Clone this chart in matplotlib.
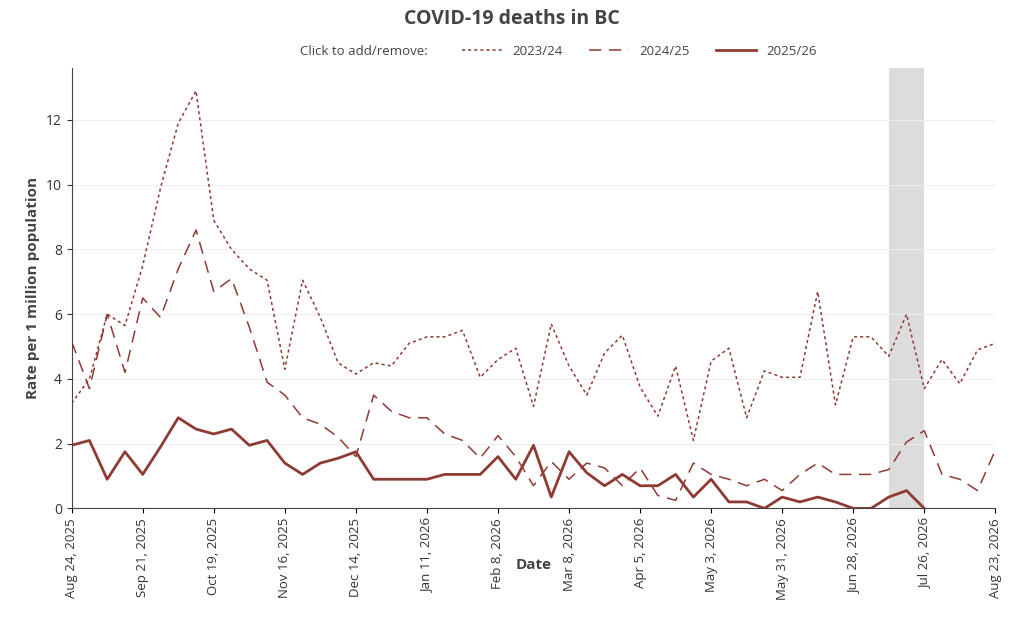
import numpy as np
import pandas as pd
import matplotlib
matplotlib.use("Agg")
import matplotlib.pyplot as plt

plt.rcParams['font.family'] = ['Open Sans', 'DejaVu Sans']

dates = pd.date_range("2025-08-24", periods=53, freq="7D")

s2324 = [3.25, 4.0, 6.0, 5.65, 7.5, 9.9, 11.9, 12.9, 8.9, 8.0, 7.4, 7.05, 4.3, 7.05, 5.9, 4.5,
         4.15, 4.5, 4.4, 5.1, 5.3, 5.3, 5.5, 4.05, 4.6, 4.95, 3.15, 5.7, 4.4, 3.5, 4.8, 5.35,
         3.75, 2.85, 4.4, 2.1, 4.55, 4.95, 2.8, 4.25, 4.05, 4.05, 6.7, 3.2, 5.3, 5.3, 4.7, 6.0,
         3.7, 4.6, 3.85, 4.9, 5.1]
s2425 = [5.15, 3.7, 6.0, 4.2, 6.5, 5.9, 7.4, 8.6, 6.7, 7.1, 5.6, 3.9, 3.5, 2.8, 2.6, 2.2,
         1.6, 3.5, 3.0, 2.8, 2.8, 2.3, 2.1, 1.55, 2.25, 1.6, 0.7, 1.45, 0.9, 1.4, 1.25, 0.7,
         1.25, 0.4, 0.25, 1.4, 1.05, 0.9, 0.7, 0.9, 0.55, 1.05, 1.4, 1.05, 1.05, 1.05, 1.2, 2.05,
         2.4, 1.05, 0.9, 0.55, 1.8]
s2526 = [1.95, 2.1, 0.9, 1.75, 1.05, 1.9, 2.8, 2.45, 2.3, 2.45, 1.95, 2.1, 1.4, 1.05, 1.4, 1.55,
         1.75, 0.9, 0.9, 0.9, 0.9, 1.05, 1.05, 1.05, 1.6, 0.9, 1.95, 0.35, 1.75, 1.1, 0.7, 1.05,
         0.7, 0.7, 1.05, 0.35, 0.9, 0.2, 0.2, 0.0, 0.35, 0.2, 0.35, 0.2, 0.0, 0.0, 0.35, 0.55, 0.0]
shade_start, shade_end = "2026-07-12", "2026-07-26"

col = "#8e3b33"
fig, ax = plt.subplots(figsize=(10.24, 6.2), dpi=100)
fig.subplots_adjust(left=0.07, right=0.972, top=0.89, bottom=0.18)

ax.axvspan(pd.Timestamp(shade_start), pd.Timestamp(shade_end), color="#dcdcdc", lw=0, zorder=0)
l1, = ax.plot(dates, s2324, color=col, lw=1.1, ls=(0, (2, 2)), label="2023/24")
l2, = ax.plot(dates, s2425, color=col, lw=1.1, ls=(0, (8, 5)), label="2024/25")
l3, = ax.plot(dates[:len(s2526)], s2526, color=col, lw=2, label="2025/26")

ax.set_xlim(dates[0], dates[-1])
ax.set_ylim(0, 13.6)
ax.set_yticks([0, 2, 4, 6, 8, 10, 12])
ticks = dates[::4]
ax.set_xticks(ticks)
ax.set_xticklabels([f"{d.strftime('%b')} {d.day}, {d.year}" for d in ticks], rotation=90, fontsize=9.5, color="#333333")
ax.tick_params(axis="y", labelsize=10, colors="#333333")
ax.grid(axis="y", color="#eeeeee", lw=0.8)
ax.set_axisbelow(True)
for s in ["top", "right"]:
    ax.spines[s].set_visible(False)
for s in ["left", "bottom"]:
    ax.spines[s].set_color("#444444")

ax.set_xlabel("Date", fontsize=11, fontweight="bold", color="#444444", labelpad=-30)
ax.set_ylabel("Rate per 1 million population", fontsize=11, fontweight="bold", color="#444444")
fig.suptitle("COVID-19 deaths in BC", fontsize=14, fontweight="bold", color="#444444", y=0.985)

fig.text(0.293, 0.917, "Click to add/remove:", fontsize=9.5, color="#444444", va="center")
leg = fig.legend(handles=[l1, l2, l3], loc="center left", bbox_to_anchor=(0.44, 0.917),
                 ncol=3, frameon=False, fontsize=9.5, handlelength=3, columnspacing=2)
for t in leg.get_texts():
    t.set_color("#444444")

fig.savefig("out.png", dpi=100)
